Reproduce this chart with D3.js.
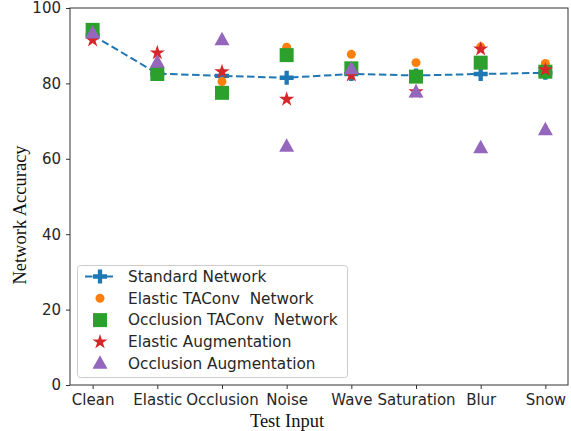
<!DOCTYPE html>
<html><head><meta charset="utf-8">
<script src="https://cdn.jsdelivr.net/npm/d3@7"></script>
<style>body{margin:0;background:#fff}svg{display:block}</style>
</head><body>
<script>
const categories = ["Clean","Elastic","Occlusion","Noise","Wave","Saturation","Blur","Snow"];
const standardNetwork = [92.8, 82.6, 82.0, 81.5, 82.5, 82.1, 82.5, 82.8];
const elasticTAConv = [93.0, 82.3, 80.5, 89.6, 87.7, 85.5, 89.7, 85.3];
const occlusionTAConv = [94.2, 82.5, 77.5, 87.5, 84.0, 81.8, 85.5, 83.1];
const elasticAug = [91.5, 88.1, 83.1, 75.8, 82.2, 77.8, 89.1, 83.6];
const occlusionAug = [93.3, 85.5, 91.5, 63.2, 83.8, 77.6, 62.8, 67.6];
const yTicks = [0, 20, 40, 60, 80, 100];
const legendLabels = ["Standard Network","Elastic TAConv  Network","Occlusion TAConv  Network","Elastic Augmentation","Occlusion Augmentation"];

const W = 571, H = 431;
const m = {l:70, r:3, t:8, b:46};
const svg = d3.select("body").append("svg").attr("width",W).attr("height",H);
const n = categories.length;
const x = d3.scaleLinear().domain([-0.35, n-1+0.35]).range([m.l, W-m.r]);
const y = d3.scaleLinear().domain([0,100]).range([H-m.b, m.t]);

const tickFont = "DejaVu Sans, sans-serif";
// axes
const xAxis = d3.axisBottom(x).tickValues(d3.range(n)).tickFormat(i=>categories[i]).tickSize(4).tickPadding(5);
const gx = svg.append("g").attr("transform",`translate(0,${H-m.b})`).call(xAxis);
const yAxis = d3.axisLeft(y).tickValues(yTicks).tickSize(4).tickPadding(5);
const gy = svg.append("g").attr("transform",`translate(${m.l},0)`).call(yAxis);
[gx,gy].forEach(g=>{
  g.selectAll("text").attr("font-family",tickFont).attr("font-size",15).attr("fill","#262626");
  g.selectAll("line").attr("stroke","#333");
  g.select(".domain").remove();
});
// frame
svg.append("rect").attr("x",m.l).attr("y",m.t).attr("width",W-m.r-m.l).attr("height",H-m.b-m.t)
  .attr("fill","none").attr("stroke","#333").attr("stroke-width",1);

svg.append("text").attr("x",287).attr("y",427).attr("text-anchor","middle")
  .attr("font-family","Liberation Serif, Times New Roman, serif").attr("font-size",18.5).attr("fill","#111").text("Test Input");
svg.append("text").attr("transform",`translate(26,215) rotate(-90)`).attr("text-anchor","middle")
  .attr("font-family","Liberation Serif, Times New Roman, serif").attr("font-size",18.5).attr("fill","#111").text("Network Accuracy");

const colors = ["#1f77b4","#ff7f0e","#2ca02c","#d62728","#9467bd"];
const plusPath = (s)=>{const a=s/2,b=s/6.5;return `M${-b},${-a}H${b}V${-b}H${a}V${b}H${b}V${a}H${-b}V${b}H${-a}V${-b}H${-b}Z`;};
const circlePath = (r)=>`M${r},0A${r},${r} 0 1,1 ${-r},0A${r},${r} 0 1,1 ${r},0Z`;
const squarePath = (s)=>`M${-s/2},${-s/2}h${s}v${s}h${-s}Z`;
const starPath = (R)=>{const r=R*0.38;let p="";for(let i=0;i<10;i++){const rr=i%2?r:R;const a=-Math.PI/2+i*Math.PI/5;p+=(i?"L":"M")+(rr*Math.cos(a)).toFixed(2)+","+(rr*Math.sin(a)).toFixed(2);}return p+"Z";};
const triPath = (s)=>{const h=s*0.9;return `M0,${-h*0.62}L${s/2},${h*0.38}L${-s/2},${h*0.38}Z`;};
const shapes = [()=>plusPath(14), ()=>circlePath(4.5), ()=>squarePath(14), ()=>starPath(8), ()=>triPath(15)];

const plot = svg.append("g");
plot.append("path").datum(standardNetwork)
  .attr("d", d3.line().x((d,i)=>x(i)).y(d=>y(d)))
  .attr("fill","none").attr("stroke",colors[0]).attr("stroke-width",2).attr("stroke-dasharray","7.5,3.5");
const series = [standardNetwork, elasticTAConv, occlusionTAConv, elasticAug, occlusionAug];
series.forEach((s,k)=>{
  plot.selectAll(null).data(s).enter().append("path")
    .attr("transform",(d,i)=>`translate(${x(i)},${y(d)})`)
    .attr("d",shapes[k]()).attr("fill",colors[k]);
});

// legend
const lg = svg.append("g");
lg.append("rect").attr("x",77.5).attr("y",265.5).attr("width",270).attr("height",112).attr("rx",3)
  .attr("fill","#fff").attr("fill-opacity",0.8).attr("stroke","#ccc").attr("stroke-width",1);
legendLabels.forEach((lab,k)=>{
  const cy = 276.5 + k*21.8;
  if(k===0){
    lg.append("line").attr("x1",85).attr("x2",113).attr("y1",cy).attr("y2",cy)
      .attr("stroke",colors[0]).attr("stroke-width",2).attr("stroke-dasharray","7.5,3.5");
  }
  lg.append("path").attr("transform",`translate(100,${cy})`).attr("d",shapes[k]()).attr("fill",colors[k]);
  lg.append("text").attr("x",128).attr("y",cy).attr("dy","0.35em").attr("font-family",tickFont)
    .attr("font-size",15.3).attr("fill","#262626").style("white-space","pre").text(lab);
});
</script>
</body></html>
